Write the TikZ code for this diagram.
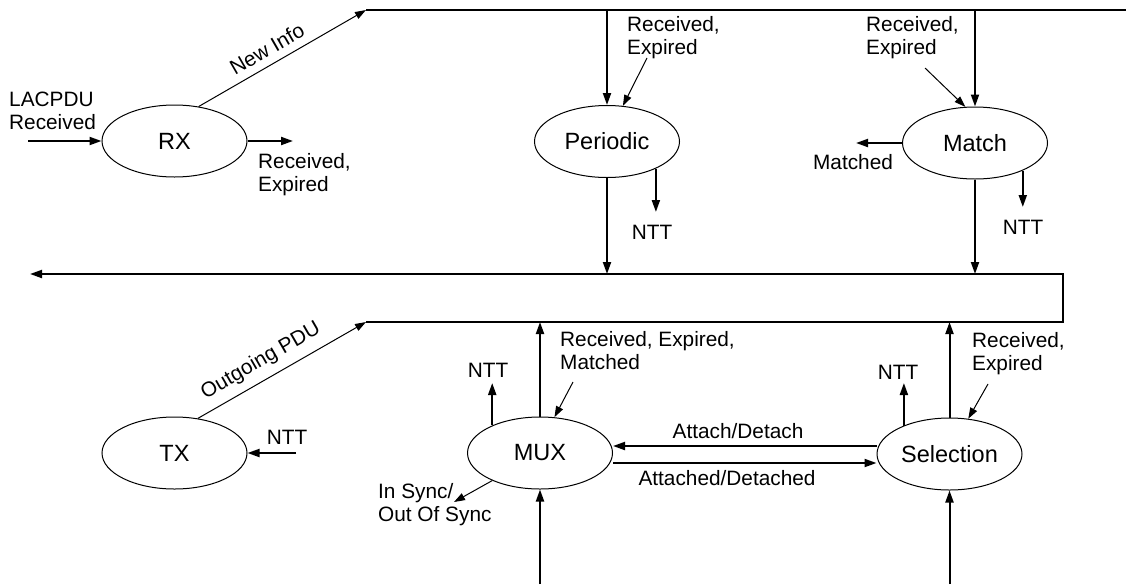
\documentclass[tikz,border=0pt]{standalone}
\usepackage{fontspec}
\setmainfont{Liberation Sans}
\usetikzlibrary{arrows.meta,shapes.geometric}
\begin{document}
\begin{tikzpicture}[x=1pt,y=-1pt,
  state/.style={draw,line width=1pt,ellipse,minimum width=145pt,minimum height=72pt,inner sep=0pt,
    font=\fontsize{23.5}{26}\selectfont},
  lbl/.style={inner sep=0pt,align=left,font=\fontsize{20.8}{23}\selectfont},
  bus/.style={line width=2pt},
  flow/.style={line width=2pt,-{Triangle[length=12pt,width=8pt]}},
  thinflow/.style={line width=1pt,-{Triangle[length=11pt,width=7.5pt]}}]
\useasboundingbox (0,0) rectangle (1126,584);
\fill[white] (0,0) rectangle (1126,584);

% state machines
\node[state] (rx) at (174.5,141) {RX};
\node[state] (periodic) at (607,141.5) {Periodic};
\node[state] (match) at (975,143) {Match};
\node[state] (tx) at (174.5,453) {TX};
\node[state] (mux) at (540,453) {MUX};
\node[state] (sel) at (949.5,454) {Selection};

% upper bus (new info) and the box carrying the outgoing PDU
\coordinate (topL) at (366,10);
\coordinate (topR) at (1126,10);
\coordinate (pTop) at (607,10);
\coordinate (mTop) at (975,10);
\coordinate (boxBL) at (366,322);
\coordinate (boxBR) at (1063,322);
\coordinate (boxTR) at (1063,274);
\coordinate (lacpduOut) at (30,274);
\coordinate (pBox) at (607,274);
\coordinate (mBox) at (975,274);
\coordinate (muxBox) at (540,322);
\coordinate (selBox) at (949.5,322);
\coordinate (muxIn) at (540,584);
\coordinate (selIn) at (949.5,584);

\draw[bus] (topL) -- (topR);
\draw[flow] (boxBL) -- (boxBR) -- (boxTR) -- (lacpduOut);

% RX
\coordinate (lacpduIn) at (28,141);
\coordinate (rxOut) at (293,141);
\draw[flow] (lacpduIn) -- (rx.west);
\draw[flow] (rx.east) -- (rxOut);
\draw[thinflow] (rx.55) -- (topL);
\node[lbl,anchor=west] (lRxIn) at (9,111) {LACPDU\\Received};
\node[lbl,anchor=west] (lRxOut) at (258,175) {Received,\\Expired};
\node[lbl,rotate=30] (lNew) at (267,49) {New Info};

% Periodic
\draw[flow] (pTop) -- (periodic.north);
\draw[flow] (periodic.south) -- (pBox);
\coordinate (pNtt) at (655,212);
\draw[flow] (periodic.-29) -- (periodic.-29 |- pNtt);
\node[lbl] (lPNtt) at (652,232) {NTT};
\node[lbl,anchor=west] (lPer) at (627,37.5) {Received,\\Expired};
\coordinate (pLbl) at (647,58);
\draw[thinflow] (pLbl) -- (periodic.66);

% Match
\draw[flow] (mTop) -- (match.north);
\draw[flow] (match.south) -- (mBox);
\coordinate (mNtt) at (1023,207);
\draw[flow] (match.-30) -- (match.-30 |- mNtt);
\node[lbl] (lMNtt) at (1023,227) {NTT};
\coordinate (matchedOut) at (856,143);
\draw[flow] (match.west) -- (matchedOut);
\node[lbl] (lMatched) at (853,162) {Matched};
\node[lbl,anchor=west] (lMatch) at (866,38) {Received,\\Expired};
\coordinate (mLbl) at (925,68);
\draw[thinflow] (mLbl) -- (match.105);

% TX
\draw[thinflow] (tx.56) -- (boxBL);
\node[lbl,rotate=30] (lOut) at (261,361) {Outgoing PDU};
\coordinate (txNtt) at (296,453);
\draw[flow] (txNtt) -- (tx.east);
\node[lbl] (lTxNtt) at (287,437) {NTT};

% MUX
\draw[flow] (mux.north) -- (muxBox);
\draw[flow] (muxIn) -- (mux.south);
\coordinate (xNtt) at (492,383);
\draw[flow] (mux.150) -- (mux.150 |- xNtt);
\node[lbl] (lXNtt) at (488,370) {NTT};
\node[lbl,anchor=west] (lMux) at (560,351) {Received, Expired,\\Matched};
\coordinate (xLbl) at (573,382);
\draw[thinflow] (xLbl) -- (mux.68);
\coordinate (syncOut) at (454,502);
\draw[thinflow] (mux.210) -- (syncOut);
\node[lbl,anchor=west] (lSync) at (378,505) {In Sync/\\Out Of Sync};

% MUX <-> Selection
\draw[flow] ([yshift=8pt]sel.west) -- ([yshift=7pt]mux.east);
\draw[flow] ([yshift=-10pt]mux.east) -- ([yshift=-9pt]sel.west);
\node[lbl] (lAttach) at (738,431) {Attach/Detach};
\node[lbl] (lAttached) at (727,478) {Attached/Detached};

% Selection
\draw[flow] (sel.north) -- (selBox);
\draw[flow] (selIn) -- (sel.south);
\coordinate (sNtt) at (903,383);
\draw[flow] (sel.148) -- (sel.148 |- sNtt);
\node[lbl] (lSNtt) at (898,372) {NTT};
\node[lbl,anchor=west] (lSel) at (972,354) {Received,\\Expired};
\coordinate (sLbl) at (988,384);
\draw[thinflow] (sLbl) -- (sel.62);
\end{tikzpicture}
\end{document}
